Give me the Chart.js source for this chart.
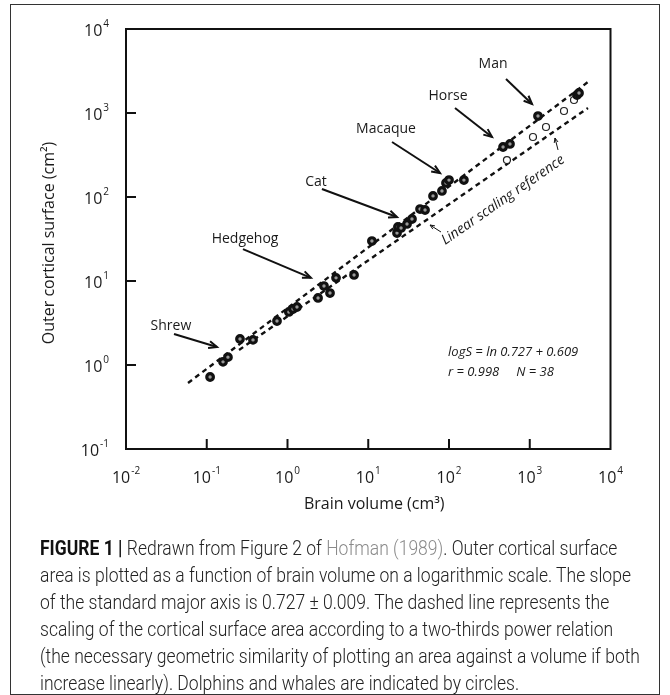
<!DOCTYPE html>
<html>
<head>
<meta charset="utf-8">
<script src="https://cdn.jsdelivr.net/npm/chart.js@4.4.1/dist/chart.umd.min.js"></script>
<style>
    html, body { margin: 0; padding: 0; background: #fff; }
    body { width: 670px; height: 695px; position: relative; overflow: hidden; }
    #frame { position: absolute; left: 10px; top: 4px; width: 650px; height: 691px; border: 1.5px solid #333; box-sizing: border-box; }
    #wrap { position: absolute; left: 0; top: 0; width: 670px; height: 540px; }
    #caption { position: absolute; left: 40px; top: 535px; font-family: Roboto, "Liberation Sans", sans-serif; font-weight: 300; font-size: 20px; line-height: 27px; color: #222; white-space: nowrap; transform-origin: 0 0; }
    #caption b { font-weight: 700; color: #111; }
    #caption .ref { color: #8a8a8a; }
</style>
</head>
<body>
<div id="frame"></div>
<div id="wrap"><canvas id="brain-chart" width="670" height="540"></canvas></div>
<div id="caption">
    <div id="cap-first"><b>FIGURE 1 |</b> Redrawn from Figure 2 of <span class="ref">Hofman (1989)</span>. Outer cortical surface</div>
    <div>area is plotted as a function of brain volume on a logarithmic scale. The slope</div>
    <div>of the standard major axis is 0.727 ± 0.009. The dashed line represents the</div>
    <div>scaling of the cortical surface area according to a two-thirds power relation</div>
    <div>(the necessary geometric similarity of plotting an area against a volume if both</div>
    <div>increase linearly). Dolphins and whales are indicated by circles.</div>
</div>
<script>
// 脳容積 (cm3) と外側皮質表面積 (cm2)
const brainVolume = [0.110, 0.159, 0.183, 0.258, 0.374, 0.741, 1.04, 1.17, 1.31, 2.39,
    2.83, 3.36, 3.99, 6.67, 11.1, 22.7, 23.3, 25.5, 30.2, 34.8,
    43.8, 50.5, 63.4, 81.8, 91.8, 100, 153, 467, 569, 1265, 3846, 4074];
const corticalSurface = [0.72, 1.09, 1.24, 2.04, 1.99, 3.34, 4.28, 4.64, 4.90, 6.28,
    8.71, 7.19, 10.9, 11.8, 29.9, 37.2, 44.0, 42.8, 47.8, 54.7,
    71.9, 70.0, 103, 118, 147, 159, 159, 394, 428, 920, 1637, 1730];

// イルカ・クジラ（白丸）
const cetaceanVolume = [522, 1096, 1589, 2655, 3532];
const cetaceanSurface = [275, 518, 681, 1057, 1429];

// 回帰線と 2/3 べき乗の参照線（端点）
const fitLineVolume = [0.0586, 5260];
const fitLineSurface = [0.611, 2339];
const refLineVolume = [0.251, 5260];
const refLineSurface = [1.51, 1148];

const xTickPowers = [-2, -1, 0, 1, 2, 3, 4];
const yTickPowers = [-1, 0, 1, 2, 3, 4];

// 種名ラベルと矢印（データ座標）
const speciesLabels = ['Man', 'Horse', 'Macaque', 'Cat', 'Hedgehog', 'Shrew'];
const labelVolume = [351, 97.3, 16.6, 2.25, 0.298, 0.036];
const labelSurface = [3828, 1592, 646, 151, 31.6, 2.91];
const arrowFromVolume = [508, 118.6, 19.7, 2.67, 0.281, 0.0393];
const arrowFromSurface = [2541, 1148, 452, 124.5, 24.0, 2.34];
const arrowToVolume = [1067, 341, 77.4, 22.7, 1.95, 0.134];
const arrowToSurface = [1279, 518, 193, 57.8, 10.9, 1.64];

const refNoteText = 'Linear scaling reference';
const refNoteVolume = 467;
const refNoteSurface = 92;
const refPointerFromVolume = [79.6, 2239];
const refPointerFromSurface = [38.3, 363];
const refPointerToVolume = [58.2, 2054];
const refPointerToSurface = [46.4, 504];

const equationLines = ['logS = ln 0.727 + 0.609', 'r = 0.998     N = 38'];
const equationVolume = 97.3;
const equationSurface = [1.43, 0.826];

const FONT = '"Open Sans", "DejaVu Sans", sans-serif';

function toPoints(xs, ys) {
    return xs.map((x, i) => ({ x: x, y: ys[i] }));
}

function drawArrow(ctx, x1, y1, x2, y2, width, head) {
    const ang = Math.atan2(y2 - y1, x2 - x1);
    ctx.lineWidth = width;
    ctx.beginPath();
    ctx.moveTo(x1, y1);
    ctx.lineTo(x2, y2);
    ctx.stroke();
    ctx.beginPath();
    ctx.moveTo(x2 - head * Math.cos(ang - 0.4), y2 - head * Math.sin(ang - 0.4));
    ctx.lineTo(x2, y2);
    ctx.lineTo(x2 - head * Math.cos(ang + 0.4), y2 - head * Math.sin(ang + 0.4));
    ctx.stroke();
}

function powerLabel(ctx, p, x, y, align) {
    const base = '10';
    const exp = p < 0 ? '-' + Math.abs(p) : String(p);
    ctx.font = '16px ' + FONT;
    const bw = ctx.measureText(base).width;
    ctx.font = '10px ' + FONT;
    const ew = ctx.measureText(exp).width;
    let left = align === 'right' ? x - bw - ew - 1 : x - (bw + ew + 1) / 2;
    ctx.textAlign = 'left';
    ctx.textBaseline = 'middle';
    ctx.font = '16px ' + FONT;
    ctx.fillText(base, left, y);
    ctx.font = '10px ' + FONT;
    ctx.fillText(exp, left + bw + 1, y - 7);
}

const figureDecor = {
    id: 'figureDecor',
    afterDraw(chart) {
        const ctx = chart.ctx;
        const a = chart.chartArea;
        const xs = chart.scales.x;
        const ys = chart.scales.y;
        ctx.save();
        ctx.strokeStyle = '#111';
        ctx.fillStyle = '#1a1a1a';

        // 枠
        ctx.lineWidth = 2;
        ctx.strokeRect(a.left, a.top, a.right - a.left, a.bottom - a.top);

        // 内向きの目盛り
        ctx.lineWidth = 2;
        xTickPowers.slice(1, -1).forEach(p => {
            const x = xs.getPixelForValue(Math.pow(10, p));
            ctx.beginPath(); ctx.moveTo(x, a.bottom); ctx.lineTo(x, a.bottom - 10); ctx.stroke();
        });
        yTickPowers.slice(1, -1).forEach(p => {
            const y = ys.getPixelForValue(Math.pow(10, p));
            ctx.beginPath(); ctx.moveTo(a.left, y); ctx.lineTo(a.left + 10, y); ctx.stroke();
        });

        // 目盛りラベル
        xTickPowers.forEach(p => powerLabel(ctx, p, xs.getPixelForValue(Math.pow(10, p)), a.bottom + 29, 'center'));
        yTickPowers.forEach(p => powerLabel(ctx, p, a.left - 17, ys.getPixelForValue(Math.pow(10, p)) + 2, 'right'));

        // 軸タイトル
        ctx.font = '16px ' + FONT;
        ctx.textAlign = 'center';
        ctx.textBaseline = 'middle';
        ctx.fillText('Brain volume (cm³)', (a.left + a.right) / 2 + 6, a.bottom + 55);
        ctx.save();
        ctx.translate(49, (a.top + a.bottom) / 2 + 4);
        ctx.rotate(-Math.PI / 2);
        ctx.fillText('Outer cortical surface (cm²)', 0, 0);
        ctx.restore();

        // 種名と矢印
        ctx.font = '14px ' + FONT;
        speciesLabels.forEach((name, i) => {
            ctx.fillText(name, xs.getPixelForValue(labelVolume[i]), ys.getPixelForValue(labelSurface[i]));
            drawArrow(ctx,
                xs.getPixelForValue(arrowFromVolume[i]), ys.getPixelForValue(arrowFromSurface[i]),
                xs.getPixelForValue(arrowToVolume[i]), ys.getPixelForValue(arrowToSurface[i]), 2, 9);
        });

        // 参照線の注記
        const rx1 = xs.getPixelForValue(refLineVolume[0]), ry1 = ys.getPixelForValue(refLineSurface[0]);
        const rx2 = xs.getPixelForValue(refLineVolume[1]), ry2 = ys.getPixelForValue(refLineSurface[1]);
        ctx.save();
        ctx.translate(xs.getPixelForValue(refNoteVolume), ys.getPixelForValue(refNoteSurface));
        ctx.rotate(Math.atan2(ry2 - ry1, rx2 - rx1));
        ctx.font = 'italic 14px ' + FONT;
        ctx.fillText(refNoteText, 0, 0);
        ctx.restore();
        refPointerFromVolume.forEach((v, i) => {
            drawArrow(ctx,
                xs.getPixelForValue(v), ys.getPixelForValue(refPointerFromSurface[i]),
                xs.getPixelForValue(refPointerToVolume[i]), ys.getPixelForValue(refPointerToSurface[i]), 1, 5);
        });

        // 回帰式
        ctx.font = 'italic 13px ' + FONT;
        ctx.textAlign = 'left';
        equationLines.forEach((t, i) => {
            ctx.fillText(t, xs.getPixelForValue(equationVolume), ys.getPixelForValue(equationSurface[i]));
        });
        ctx.restore();
    }
};

new Chart(document.getElementById('brain-chart').getContext('2d'), {
    type: 'scatter',
    data: {
        datasets: [{
            label: 'Fit',
            data: toPoints(fitLineVolume, fitLineSurface),
            showLine: true,
            borderColor: '#111',
            borderWidth: 2.4,
            borderDash: [5, 4],
            pointRadius: 0,
            order: 3
        }, {
            label: 'Two-thirds reference',
            data: toPoints(refLineVolume, refLineSurface),
            showLine: true,
            borderColor: '#111',
            borderWidth: 2.4,
            borderDash: [5, 4],
            pointRadius: 0,
            order: 3
        }, {
            label: 'Cetaceans',
            data: toPoints(cetaceanVolume, cetaceanSurface),
            pointRadius: 3.5,
            pointBorderWidth: 1.2,
            pointBackgroundColor: '#fff',
            pointBorderColor: '#222',
            order: 2
        }, {
            label: 'Mammals',
            data: toPoints(brainVolume, corticalSurface),
            pointRadius: 3.3,
            pointBorderWidth: 3.2,
            pointBackgroundColor: '#999',
            pointBorderColor: '#111',
            order: 1
        }]
    },
    options: {
        responsive: false,
        animation: false,
        events: [],
        layout: { padding: { top: 29, right: 59.5, left: 0, bottom: 0 } },
        plugins: { legend: { display: false }, tooltip: { enabled: false } },
        scales: {
            x: {
                type: 'logarithmic',
                min: 0.01,
                max: 10000,
                grid: { display: false },
                border: { display: false },
                ticks: { display: false },
                afterFit(scale) { scale.height = 91; }
            },
            y: {
                type: 'logarithmic',
                min: 0.1,
                max: 10000,
                grid: { display: false },
                border: { display: false },
                ticks: { display: false },
                afterFit(scale) { scale.width = 126; }
            }
        }
    },
    plugins: [figureDecor]
});

// キャプション幅を合わせる
const cap = document.getElementById('caption');
const first = document.getElementById('cap-first');
const w = first.getBoundingClientRect().width;
cap.style.transform = 'scaleX(' + (600 / w) + ')';
</script>
</body>
</html>
